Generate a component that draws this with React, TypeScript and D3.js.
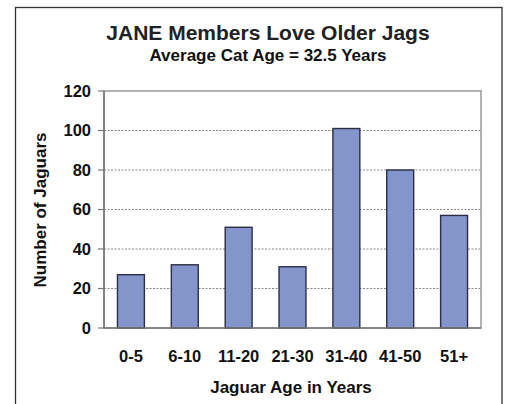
import { useEffect, useRef } from "react";
import { scaleBand, scaleLinear, select } from "d3";

const categories = ["0-5", "6-10", "11-20", "21-30", "31-40", "41-50", "51+"];
const counts = [27, 32, 51, 31, 101, 80, 57];
const yTicks = [0, 20, 40, 60, 80, 100, 120];

const title = "JANE Members Love Older Jags";
const subtitle = "Average Cat Age = 32.5 Years";
const xTitle = "Jaguar Age in Years";
const yTitle = "Number of Jaguars";

const W = 506,
  H = 404;
const FONT = "'Liberation Sans', Arial, sans-serif";

export default function App() {
  const ref = useRef<SVGSVGElement>(null);

  useEffect(() => {
    if (!ref.current) return;
    const svg = select(ref.current);
    svg.selectAll("*").remove();

    const left = 104,
      right = 481,
      top = 91,
      bottom = 328;

    const x = scaleBand<string>().domain(categories).range([left, right]).paddingInner(0.5).paddingOuter(0.25);
    const y = scaleLinear().domain([0, 120]).range([bottom, top]);

    svg.append("rect").attr("width", W).attr("height", H).attr("fill", "#fff");

    // outer chart frame (bottom edge runs off the picture)
    svg
      .append("rect")
      .attr("x", 15.5)
      .attr("y", 7.5)
      .attr("width", 486.5)
      .attr("height", 420)
      .attr("fill", "none")
      .attr("stroke", "#333")
      .attr("stroke-width", 1.3);

    // gridlines
    svg
      .append("g")
      .selectAll("line")
      .data(yTicks.filter((t) => t > 0 && t < 120))
      .join("line")
      .attr("x1", left)
      .attr("x2", right)
      .attr("y1", (d) => y(d))
      .attr("y2", (d) => y(d))
      .attr("stroke", "#888")
      .attr("stroke-width", 1)
      .attr("stroke-dasharray", "2,1.5");

    // plot area border
    svg
      .append("rect")
      .attr("x", left)
      .attr("y", top)
      .attr("width", right - left)
      .attr("height", bottom - top)
      .attr("fill", "none")
      .attr("stroke", "#999")
      .attr("stroke-width", 1.5);

    // bars
    svg
      .append("g")
      .selectAll("rect")
      .data(counts)
      .join("rect")
      .attr("x", (_d, i) => x(categories[i])!)
      .attr("width", x.bandwidth())
      .attr("y", (d) => y(d))
      .attr("height", (d) => bottom - y(d))
      .attr("fill", "#8495cc")
      .attr("stroke", "#2a2f45")
      .attr("stroke-width", 1.4);

    // axes lines
    svg
      .append("line")
      .attr("x1", left)
      .attr("x2", left)
      .attr("y1", top)
      .attr("y2", bottom)
      .attr("stroke", "#777")
      .attr("stroke-width", 1.6);
    svg
      .append("line")
      .attr("x1", left)
      .attr("x2", right)
      .attr("y1", bottom)
      .attr("y2", bottom)
      .attr("stroke", "#777")
      .attr("stroke-width", 1.6);

    // y ticks and labels
    const yg = svg.append("g");
    yg.selectAll("line")
      .data(yTicks)
      .join("line")
      .attr("x1", left - 6)
      .attr("x2", left)
      .attr("y1", (d) => y(d))
      .attr("y2", (d) => y(d))
      .attr("stroke", "#777")
      .attr("stroke-width", 1.2);
    yg.selectAll("text")
      .data(yTicks)
      .join("text")
      .attr("x", left - 13)
      .attr("y", (d) => y(d))
      .attr("dy", "0.36em")
      .attr("text-anchor", "end")
      .attr("font-family", FONT)
      .attr("font-weight", "bold")
      .attr("font-size", 16.5)
      .attr("fill", "#111")
      .text((d) => d);

    // x labels
    svg
      .append("g")
      .selectAll("text")
      .data(categories)
      .join("text")
      .attr("x", (d) => x(d)! + x.bandwidth() / 2)
      .attr("y", 362)
      .attr("text-anchor", "middle")
      .attr("font-family", FONT)
      .attr("font-weight", "bold")
      .attr("font-size", 16.5)
      .attr("fill", "#111")
      .text((d) => d);

    // titles
    svg
      .append("text")
      .attr("x", 268)
      .attr("y", 40)
      .attr("text-anchor", "middle")
      .attr("font-family", FONT)
      .attr("font-weight", "bold")
      .attr("font-size", 21)
      .attr("fill", "#222")
      .text(title);
    svg
      .append("text")
      .attr("x", 268)
      .attr("y", 61)
      .attr("text-anchor", "middle")
      .attr("font-family", FONT)
      .attr("font-weight", "bold")
      .attr("font-size", 17)
      .attr("fill", "#111")
      .text(subtitle);
    svg
      .append("text")
      .attr("x", 291)
      .attr("y", 393)
      .attr("text-anchor", "middle")
      .attr("font-family", FONT)
      .attr("font-weight", "bold")
      .attr("font-size", 17)
      .attr("fill", "#111")
      .text(xTitle);
    svg
      .append("text")
      .attr("transform", "translate(46,210) rotate(-90)")
      .attr("text-anchor", "middle")
      .attr("font-family", FONT)
      .attr("font-weight", "bold")
      .attr("font-size", 17)
      .attr("fill", "#111")
      .text(yTitle);
  }, []);

  return (
    <svg
      ref={ref}
      width={W}
      height={H}
      viewBox={`0 0 ${W} ${H}`}
      style={{ position: "absolute", left: 0, top: 0, display: "block" }}
    />
  );
}
